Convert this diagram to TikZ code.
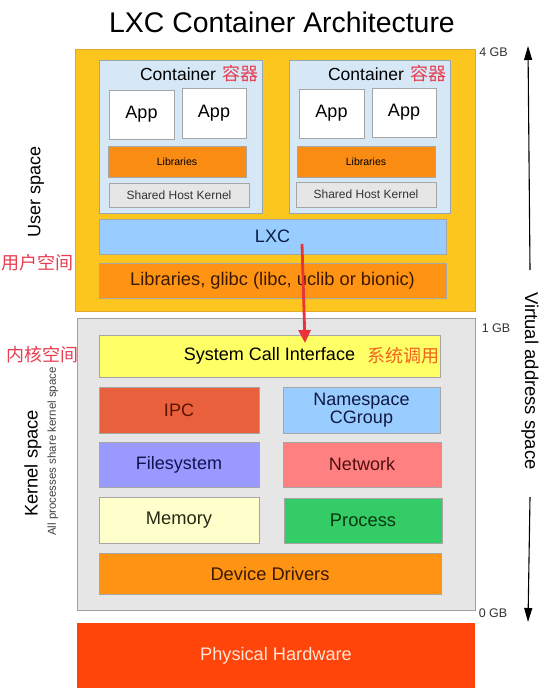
\documentclass[tikz,border=0pt]{standalone}
\usepackage{fontspec}
\setmainfont{Liberation Sans}
\newfontfamily\cjk{Noto Sans CJK SC}
\usetikzlibrary{positioning, arrows.meta}
\newcommand\fsz[1]{\fontsize{#1}{#1}\selectfont}
\definecolor{userbg}{RGB}{252,198,30}
\definecolor{userbd}{RGB}{222,170,40}
\definecolor{cbg}{RGB}{214,232,245}
\definecolor{cbd}{RGB}{150,165,180}
\definecolor{libor}{RGB}{250,140,20}
\definecolor{shk}{RGB}{230,230,230}
\definecolor{lxcblue}{RGB}{153,204,255}
\definecolor{kernbg}{RGB}{230,230,230}
\definecolor{kernbd}{RGB}{160,160,160}
\definecolor{sciy}{RGB}{255,255,102}
\definecolor{ipc}{RGB}{232,96,60}
\definecolor{fsys}{RGB}{153,153,255}
\definecolor{net}{RGB}{255,128,128}
\definecolor{mem}{RGB}{255,255,204}
\definecolor{proc}{RGB}{51,204,102}
\definecolor{dd}{RGB}{255,148,20}
\definecolor{hw}{RGB}{255,69,10}
\definecolor{zhred}{RGB}{232,60,80}
\definecolor{zhor}{RGB}{240,100,30}
\definecolor{callred}{RGB}{235,50,55}
\tikzset{x=1pt, y=-1pt, % one unit is one pixel of the reference
node distance=6pt,
blk/.style={ % every coloured box
draw=black!35, line width=0.8pt, inner sep=0pt, align=center},
lbl/.style={inner sep=0pt, align=center}, % free text
zh/.style={lbl, font=\cjk\fsz{18}, text=zhred},
axis/.style={draw, line width=1.1pt, -{Triangle[length=14pt,width=8pt]}},
call/.style={draw=callred, line width=2.8pt, -{Triangle[length=13pt,width=12pt]}}}

\begin{document}
\begin{tikzpicture}
    \useasboundingbox (0,0) rectangle (553,692);

    \node[lbl, font=\fsz{28.4}] (title) at (282,22.5) {LXC Container Architecture};

    % user space
    \node[blk, draw=userbd, fill=userbg, minimum width=400pt, minimum height=262pt] (user) at (275,180) {};
    \node[blk, draw=cbd, fill=cbg, minimum width=163pt, minimum height=153pt] (c1) at (180.5,136.5) {};
    \node[blk, draw=cbd, fill=cbg, minimum width=161pt, minimum height=153pt] (c2) at (369.5,136.5) {};
    \node[lbl, font=\fsz{17.5}] (t1) at (178,74) {Container};
    \node[zh, right=6pt of t1] (z1) {容器};
    \node[lbl, font=\fsz{17.5}] (t2) at (366,74) {Container};
    \node[zh, right=6pt of t2] (z2) {容器};

    \node[blk, fill=white, minimum width=65pt, minimum height=49pt, font=\fsz{18}] (a1) at (141.5,114.5) {App};
    \node[blk, fill=white, minimum width=64pt, minimum height=50pt, font=\fsz{18}] (a2) at (214,113) {App};
    \node[blk, fill=white, minimum width=65pt, minimum height=49pt, font=\fsz{18}] (a3) at (331.5,113.5) {App};
    \node[blk, fill=white, minimum width=64pt, minimum height=49pt, font=\fsz{18}] (a4) at (404,112.5) {App};

    \node[blk, fill=libor, minimum width=138pt, minimum height=31pt, font=\fsz{10.5}] (l1) at (177,161.5) {Libraries};
    \node[blk, fill=libor, minimum width=138pt, minimum height=31pt, font=\fsz{10.5}] (l2) at (366,161.5) {Libraries};
    \node[blk, fill=shk, minimum width=140pt, minimum height=24pt, font=\fsz{12}, text=black!80] (k1) at (179,195) {Shared Host Kernel};
    \node[blk, fill=shk, minimum width=140pt, minimum height=25pt, font=\fsz{12}, text=black!80] (k2) at (366,194.5) {Shared Host Kernel};

    \node[blk, fill=lxcblue, minimum width=347pt, minimum height=35pt, font=\fsz{18}, text={rgb,255:red,10;green,30;blue,70}] (lxc) at (272.5,236.5) {LXC};
    \node[blk, fill=dd, minimum width=347pt, minimum height=35pt, font=\fsz{18.3}, text={rgb,255:red,60;green,25;blue,0}] (glibc) at (272.5,280.5) {Libraries, glibc (libc, uclib or bionic)};

    % kernel space
    \node[blk, draw=kernbd, fill=kernbg, minimum width=398pt, minimum height=292pt] (kern) at (276,464) {};
    \node[blk, fill=sciy, minimum width=341pt, minimum height=42pt, font=\fsz{18}] (sci) at (269.5,356) {System Call Interface};
    \node[zh, text=zhor, left=1pt of sci.east] (zsci) {系统调用};

    \node[blk, fill=ipc, minimum width=160pt, minimum height=46pt, font=\fsz{18}, text={rgb,255:red,90;green,20;blue,5}] (ipc) at (179,410) {IPC};
    \node[blk, fill=lxcblue, minimum width=157pt, minimum height=46pt, font=\fsz{18}, text={rgb,255:red,15;green,25;blue,70}] (ns) at (361.5,410) {Namespace\\CGroup};
    \node[blk, fill=fsys, minimum width=160pt, minimum height=45pt, font=\fsz{18}, text={rgb,255:red,15;green,20;blue,80}] (fs) at (179,464.5) {Filesystem};
    \node[blk, fill=net, minimum width=158pt, minimum height=45pt, font=\fsz{18}, text={rgb,255:red,80;green,15;blue,15}] (net) at (362,464.5) {Network};
    \node[blk, fill=mem, minimum width=160pt, minimum height=46pt, font=\fsz{18.3}, text={rgb,255:red,40;green,40;blue,20}] (mem) at (179,520) {Memory};
    \node[blk, fill=proc, minimum width=158pt, minimum height=45pt, font=\fsz{18.3}, text={rgb,255:red,10;green,55;blue,15}] (proc) at (363,520.5) {Process};
    \node[blk, fill=dd, minimum width=342pt, minimum height=41pt, font=\fsz{18.3}, text={rgb,255:red,60;green,25;blue,0}] (dd) at (270,573.5) {Device Drivers};

    \node[blk, draw=none, fill=hw, minimum width=398pt, minimum height=65pt, font=\fsz{18.2}, text={rgb,255:red,255;green,228;blue,214}] (hw) at (276,655.5) {Physical Hardware};

    % side labels
    \node[lbl, rotate=90, font=\fsz{18}] (us) at (36,192) {User space};
    \node[zh] (zus) at (37.5,263) {用户空间};
    \node[zh] (zks) at (42.5,355) {内核空间};
    \node[lbl, rotate=90, font=\fsz{18.3}] (ks) at (33,463.5) {Kernel space};
    \node[lbl, rotate=90, font=\fsz{11.5}, text=black!75] (share) at (53,451.5) {All processes share kernel space};

    \node[lbl, font=\fsz{12.5}, text=black!80] (gb4) at (493.5,52) {4 GB};
    \node[lbl, font=\fsz{12.5}, text=black!80] (gb1) at (496,328) {1 GB};
    \node[lbl, font=\fsz{12.5}, text=black!80] (gb0) at (493,613) {0 GB};
    \node[lbl, rotate=-90, font=\fsz{18.5}] (vas) at (530,381) {Virtual address space};

    \coordinate (uptop) at (528,46);
    \coordinate (downbot) at (528,622);
    \draw[axis] (vas.east |- 0,270) -- (uptop);
    \draw[axis] (vas.east |- 0,497) -- (downbot);

    % the call from LXC down into the kernel
    \coordinate (callsrc) at (302,244);
    \coordinate (calltip) at (305,343);
    \draw[call] (callsrc) -- (calltip);

\end{tikzpicture}
\end{document}
